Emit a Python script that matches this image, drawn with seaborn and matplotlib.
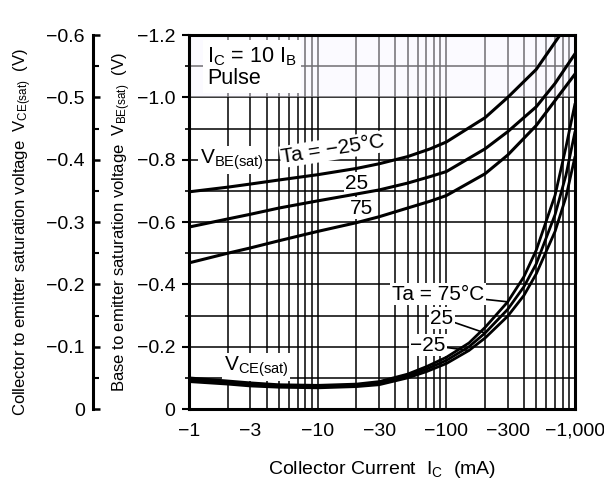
import matplotlib
matplotlib.use('Agg')
import matplotlib.pyplot as plt
import seaborn as sns
from matplotlib.ticker import FixedLocator, MultipleLocator, FuncFormatter, LogLocator, NullFormatter

# -------------------- DATA --------------------
# collector current magnitude in mA (the axis labels carry the minus sign)
IC_BE = [1, 2, 3, 5, 10, 20, 30, 50, 75, 100, 200, 300, 500, 700, 1000]
IC_BE_M25 = [1, 2, 3, 5, 10, 20, 30, 50, 75, 100, 200, 300, 500, 764]
VBE_M25 = [-0.697, -0.712, -0.722, -0.735, -0.752, -0.772, -0.787, -0.81, -0.835, -0.857, -0.935, -1.0, -1.09, -1.2]
VBE_25 = [-0.584, -0.61, -0.625, -0.645, -0.668, -0.69, -0.703, -0.725, -0.746, -0.762, -0.835, -0.89, -0.97, -1.045, -1.14]
VBE_75 = [-0.469, -0.50, -0.517, -0.54, -0.57, -0.598, -0.617, -0.645, -0.667, -0.685, -0.755, -0.815, -0.91, -0.99, -1.075]

IC_CE = [1, 2, 3, 5, 10, 20, 30, 50, 70, 100, 150, 200, 300, 400, 500, 700, 850, 1000]
VCE_75 = [-0.050, -0.045, -0.042, -0.039, -0.038, -0.040, -0.044, -0.056, -0.068, -0.083, -0.106, -0.131, -0.172, -0.212, -0.255, -0.343, -0.42, -0.49]
VCE_25 = [-0.047, -0.042, -0.039, -0.037, -0.036, -0.038, -0.041, -0.053, -0.064, -0.078, -0.100, -0.122, -0.160, -0.196, -0.233, -0.312, -0.375, -0.445]
VCE_M25 = [-0.044, -0.040, -0.037, -0.035, -0.034, -0.036, -0.039, -0.050, -0.060, -0.073, -0.094, -0.114, -0.149, -0.182, -0.217, -0.285, -0.34, -0.405]

X_TICKS = [1, 3, 10, 30, 100, 300, 1000]
X_TICK_LABELS = ['\u22121', '\u22123', '\u221210', '\u221230', '\u2212100', '\u2212300', '\u22121,000']

# -------------------- STYLE --------------------
sns.set_style('ticks')
plt.rcParams['font.family'] = ['Liberation Sans', 'DejaVu Sans']
plt.rcParams['mathtext.fontset'] = 'custom'
plt.rcParams['mathtext.rm'] = 'Liberation Sans'
plt.rcParams['mathtext.it'] = 'Liberation Sans:italic'
plt.rcParams['mathtext.default'] = 'regular'
for key in ['text.color', 'axes.labelcolor', 'xtick.color', 'ytick.color', 'axes.edgecolor']:
    plt.rcParams[key] = 'black'


def volt_fmt(v, pos):
    if abs(v) < 1e-9:
        return '0'
    return '\u2212%.1f' % abs(v)


fig = plt.figure(figsize=(6.04, 4.94), dpi=100)
ax = fig.add_axes([0.313, 0.172, 0.639, 0.757])
ax.set_xscale('log')
ax.set_xlim(1, 1000)
ax.set_ylim(0, -1.2)

# grid
ax.set_axisbelow(True)
ax.xaxis.set_major_locator(FixedLocator(X_TICKS))
ax.xaxis.set_minor_locator(LogLocator(base=10, subs=range(2, 10)))
ax.xaxis.set_minor_formatter(NullFormatter())
ax.set_xticklabels(X_TICK_LABELS)
ax.yaxis.set_major_locator(MultipleLocator(0.2))
ax.yaxis.set_minor_locator(MultipleLocator(0.1))
ax.yaxis.set_major_formatter(FuncFormatter(volt_fmt))
ax.grid(which='both', color='black', lw=1.1)
# lighter top band of the grid
ax.axhspan(-1.0, -1.2, color='#f8f5ff', alpha=0.45, lw=0, zorder=1)

for sp in ax.spines.values():
    sp.set_linewidth(2.2)
    sp.set_color('black')
    sp.set_visible(True)

ax.tick_params(axis='x', which='both', length=0, pad=10, labelsize=14)
ax.tick_params(axis='y', which='major', direction='out', length=5, width=1.5, pad=5, labelsize=14)
ax.tick_params(axis='y', which='minor', direction='out', length=3, width=1.2)

# V_BE(sat) curves
for xs, ys in [(IC_BE_M25, VBE_M25), (IC_BE, VBE_25), (IC_BE, VBE_75)]:
    sns.lineplot(x=xs, y=ys, ax=ax, color='black', lw=2.2, zorder=3,
                 estimator=None, sort=False)

ax.set_xlabel(r'Collector Current  $I_C$  (mA)', fontsize=14, labelpad=14)
ax.set_ylabel(r'Base to emitter saturation voltage  $V_{BE(sat)}$  (V)', fontsize=12)
ax.yaxis.set_label_coords(-0.145, 0.5)

white = dict(fc='white', ec='none', pad=1.0)
ax.text(0.047, 0.915, 'I$_C$ = 10 I$_B$\nPulse', transform=ax.transAxes, fontsize=15.5,
        ha='left', va='center', linespacing=1.0,
        bbox=dict(fc='white', ec='none', pad=3.0), zorder=2)
ax.text(0.111, 0.666, r'$V_{BE(sat)}$', transform=ax.transAxes, fontsize=15,
        ha='center', va='center', bbox=white, zorder=2)
ax.text(0.373, 0.695, 'Ta = \u221225\u00b0C', transform=ax.transAxes, fontsize=15,
        ha='center', va='center', rotation=9, bbox=white, zorder=2)
ax.text(0.435, 0.604, '25', transform=ax.transAxes, fontsize=15,
        ha='center', va='center', bbox=white, zorder=2)
ax.text(0.448, 0.537, '75', transform=ax.transAxes, fontsize=15,
        ha='center', va='center', bbox=white, zorder=2)

# V_CE(sat) on the outer axis
ax2 = ax.twinx()
ax2.set_ylim(0, -0.6)
ax2.yaxis.set_ticks_position('left')
ax2.yaxis.set_label_position('left')
ax2.spines['left'].set_position(('outward', 69))
ax2.spines['left'].set_visible(True)
ax2.spines['left'].set_linewidth(2.2)
for name in ['right', 'top', 'bottom']:
    ax2.spines[name].set_visible(False)
ax2.yaxis.set_major_locator(MultipleLocator(0.1))
ax2.yaxis.set_minor_locator(MultipleLocator(0.05))
ax2.yaxis.set_major_formatter(FuncFormatter(volt_fmt))
ax2.tick_params(axis='y', which='major', direction='in', length=5, width=1.8, pad=6, labelsize=14)
ax2.tick_params(axis='y', which='minor', direction='in', length=4, width=1.5)
ax2.set_ylabel(r'Collector to emitter saturation voltage  $V_{CE(sat)}$  (V)', fontsize=12)
ax2.yaxis.set_label_coords(-0.402, 0.473)

for ys in [VCE_75, VCE_25, VCE_M25]:
    sns.lineplot(x=IC_CE, y=ys, ax=ax2, color='black', lw=2.0, zorder=3,
                 estimator=None, sort=False)

ax2.text(0.174, 0.112, r'$V_{CE(sat)}$', transform=ax2.transAxes, fontsize=15,
         ha='center', va='center', bbox=white, zorder=1.5)

lead = dict(arrowstyle='-', lw=1.2, color='black', shrinkA=0, shrinkB=0)
ax2.annotate('Ta = 75\u00b0C', xy=(IC_CE[12], VCE_75[12]), xytext=(0.645, 0.307),
             textcoords='axes fraction', fontsize=15, ha='center', va='center',
             bbox=white, arrowprops=lead, zorder=1.5)
ax2.annotate('25', xy=(IC_CE[11], VCE_25[11]), xytext=(0.655, 0.243),
             textcoords='axes fraction', fontsize=15, ha='center', va='center',
             bbox=white, arrowprops=lead, zorder=1.5)
ax2.annotate('\u221225', xy=(IC_CE[10], VCE_M25[10]), xytext=(0.619, 0.171),
             textcoords='axes fraction', fontsize=15, ha='center', va='center',
             bbox=white, arrowprops=lead, zorder=1.5)

fig.savefig('out.png', dpi=100)
